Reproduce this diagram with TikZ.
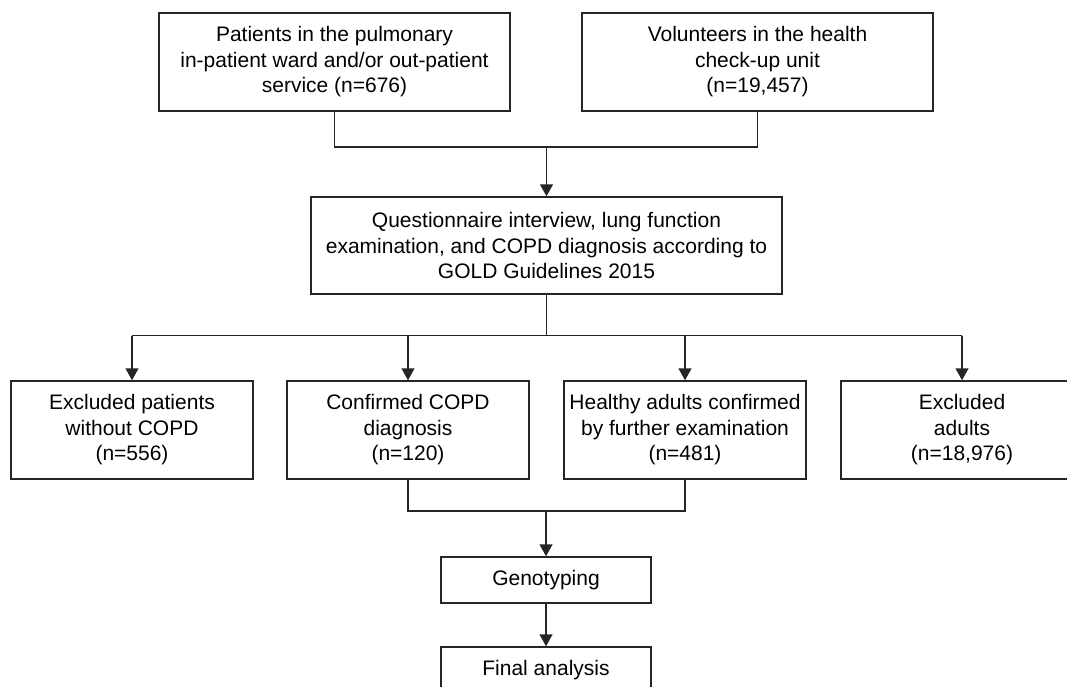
\documentclass[tikz,border=0pt]{standalone}
\usepackage{fontspec}
\setmainfont{Liberation Sans}
\usetikzlibrary{arrows.meta}
\definecolor{linec}{HTML}{262626}
\begin{document}
\begin{tikzpicture}[x=1pt,y=-1pt,
  box/.style={draw=linec, line width=1.5pt, align=center, inner sep=0pt,
    font=\fontsize{21}{25.5}\selectfont, text=black},
  conn/.style={draw=linec, line width=1.5pt},
  arr/.style={conn, -{Triangle[width=13pt,length=12pt]}}]
\useasboundingbox (0,0) rectangle (1067,687);
\clip (0,0) rectangle (1067,687);
\fill[white] (0,0) rectangle (1067,687);
\node[box, minimum width=351pt, minimum height=98pt] (p1) at (334.5,62) {Patients in the pulmonary\\in-patient ward and/or out-patient\\service (n=676)};
\node[box, minimum width=351pt, minimum height=98pt] (p2) at (757.5,62) {Volunteers in the health\\check-up unit\\(n=19,457)};
\node[box, minimum width=471pt, minimum height=97pt] (q) at (546.5,245.5) {Questionnaire interview, lung function\\examination, and COPD diagnosis according to\\GOLD Guidelines 2015};
\node[box, minimum width=242pt, minimum height=98pt] (b1) at (132,430) {Excluded patients\\without COPD\\(n=556)};
\node[box, minimum width=242pt, minimum height=98pt] (b2) at (408,430) {Confirmed COPD\\diagnosis\\(n=120)};
\node[box, minimum width=242pt, minimum height=98pt] (b3) at (685,430) {Healthy adults confirmed\\by further examination\\(n=481)};
\node[box, minimum width=242pt, minimum height=98pt] (b4) at (962,430) {Excluded\\adults\\(n=18,976)};
\node[box, minimum width=210pt, minimum height=46pt] (g) at (546,580) {Genotyping};
\node[box, minimum width=210pt, minimum height=46pt] (f) at (546,670) {Final analysis};
\coordinate (j1) at (546.5,147);
\coordinate (j2) at (546.5,335.5);
\coordinate (j3) at (546,511);
\draw[conn] (p1.south) |- (j1) -| (p2.south);
\draw[arr] (j1) -- (q.north);
\draw[conn] (q.south) -- (j2);
\draw[conn] (b1.north |- j2) -- (b4.north |- j2);
\draw[arr] (b1.north |- j2) -- (b1.north);
\draw[arr] (b2.north |- j2) -- (b2.north);
\draw[arr] (b3.north |- j2) -- (b3.north);
\draw[arr] (b4.north |- j2) -- (b4.north);
\draw[conn] (b2.south) |- (j3) -| (b3.south);
\draw[arr] (j3) -- (g.north);
\draw[arr] (g.south) -- (f.north);
\end{tikzpicture}
\end{document}
